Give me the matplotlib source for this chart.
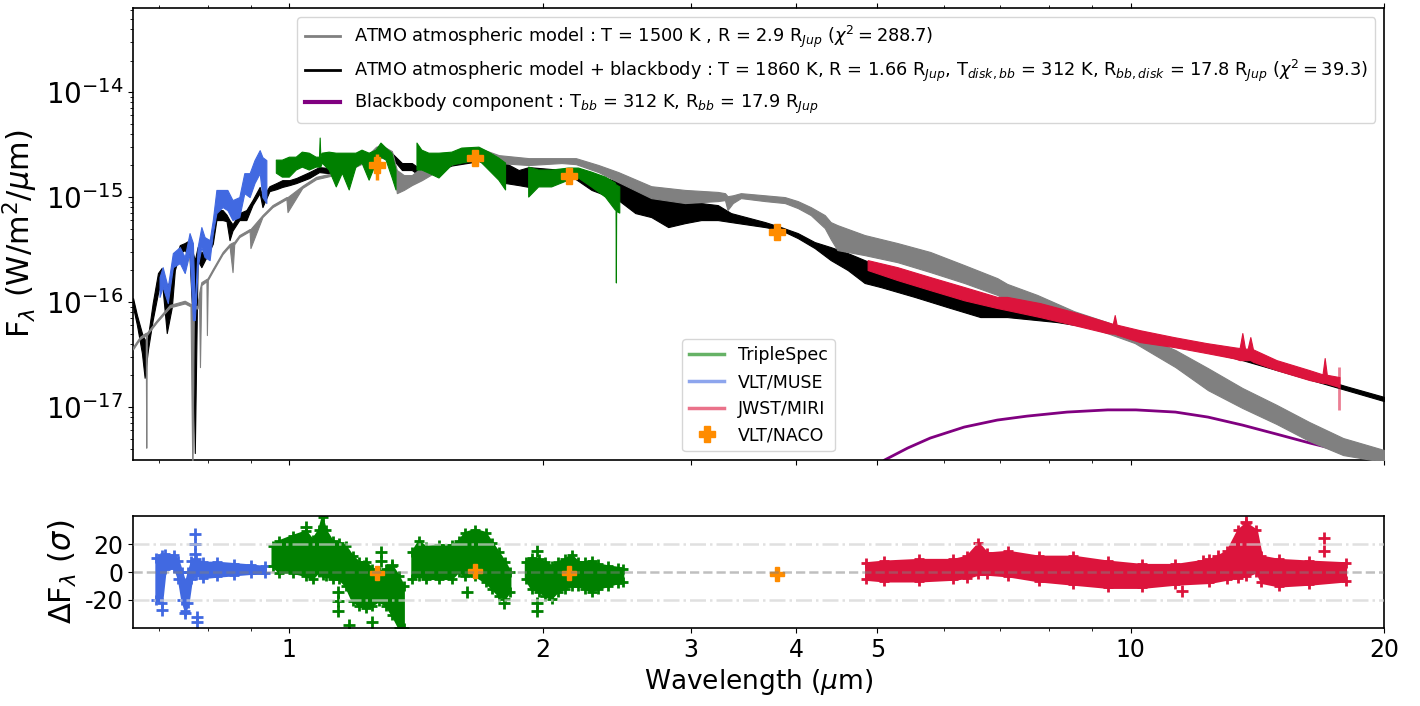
import numpy as np
import matplotlib.pyplot as plt
from matplotlib.lines import Line2D
from matplotlib.ticker import FixedLocator, FuncFormatter, NullFormatter

plt.rcParams['axes.unicode_minus'] = False
plt.rcParams['axes.linewidth'] = 1.2

nan = np.nan
# all fluxes below are in units of 1e-16 W/m2/um
UNIT = 1e-16

# ATMO model, T = 1500 K (grey): wavelength, upper and lower edge of the trace
atmo_wl = [0.652, 0.664, 0.675, 0.676, 0.677, 0.696, 0.721, 0.751, 0.763, 0.767,
           0.770, 0.778, 0.781, 0.783, 0.786, 0.797, 0.798, 0.800, 0.811, 0.833,
           0.849, 0.856, 0.860, 0.872, 0.897, 0.899, 0.929, 0.955, 0.992, 0.995,
           1.036, 1.076, 1.115, 1.168, 1.22, 1.268, 1.288, 1.324, 1.342, 1.368,
           1.398, 1.437, 1.506, 1.603, 1.68, 1.774, 1.925, 2.106, 2.19, 2.33,
           2.46, 2.692, 2.953, 3.23, 3.294, 3.317, 3.366, 3.44, 3.675, 3.88,
           4.02, 4.165, 4.328, 4.399, 4.48, 4.827, 5.28, 5.777, 6.34, 6.94,
           7.13, 7.74, 8.56, 9.37, 10.11, 11.3, 12.35, 13.57, 14.9, 16.3, 17.88, 20.0]
atmo_hi = [0.375, 0.465, 0.51, 0.51, 0.51, 0.675, 0.94, 1.03, 0.96, 0.95,
           0.92, 0.92, 1.2, 1.35, 1.55, 1.66, 1.66, 1.7, 2.07, 3.0,
           3.57, 3.7, 3.75, 4.35, 4.96, 4.96, 6.74, 8.4, 10.0, 10.0,
           12.8, 15.6, 16.6, 18.6, 22.2, 30.2, 31.0, 27.4, 18.1, 16.2,
           16.2, 19.3, 22.5, 26.8, 29.3, 25.1, 23.5, 23.5, 23.5, 20.2,
           17.3, 12.7, 11.7, 11.2, 10.9, 10.2, 10.4, 10.9, 10.4, 10.0,
           9.16, 8.03, 6.74, 5.78, 5.41, 4.35, 3.65, 3.0, 2.25, 1.69,
           1.49, 1.17, 0.82, 0.645, 0.518, 0.349, 0.235, 0.152, 0.105, 0.072, 0.0507, 0.039]
atmo_lo = [0.355, 0.443, 0.485, 0.041, 0.485, 0.645, 0.89, 0.97, 0.91, 0.02,
           0.87, 0.87, 1.1, 0.24, 1.45, 1.58, 0.485, 1.62, 1.97, 2.86,
           3.41, 1.93, 3.55, 4.16, 4.74, 3.27, 6.45, 8.03, 9.57, 7.2,
           12.2, 14.8, 15.8, 17.6, 20.8, 28.2, 28.8, 25.0, 10.9, 11.7,
           13.0, 14.5, 18.1, 22.5, 25.1, 21.1, 20.2, 21.1, 20.6, 17.3,
           13.9, 9.78, 8.77, 9.16, 9.36, 7.52, 8.77, 9.78, 9.16, 8.77,
           7.86, 6.74, 5.07, 3.98, 3.13, 2.80, 2.40, 1.93, 1.52, 1.17,
           1.04, 0.86, 0.645, 0.507, 0.407, 0.24, 0.145, 0.098, 0.069, 0.0475, 0.0349, 0.030]

# ATMO + blackbody model (black)
fit_wl = [0.652, 0.659, 0.668, 0.673, 0.679, 0.688, 0.698, 0.705, 0.715, 0.725,
          0.731, 0.741, 0.751, 0.761, 0.768, 0.772, 0.778, 0.786, 0.797, 0.811,
          0.819, 0.833, 0.842, 0.849, 0.856, 0.872, 0.889, 0.904, 0.922, 0.929,
          0.947, 0.965, 0.981, 1.0, 1.019, 1.056, 1.085, 1.115, 1.168, 1.22,
          1.288, 1.324, 1.361, 1.398, 1.437, 1.465, 1.56, 1.68, 1.774, 1.807,
          1.873, 1.925, 2.05, 2.147, 2.286, 2.46, 2.577, 2.692, 2.82, 2.953,
          3.086, 3.23, 3.349, 3.675, 3.838, 4.02, 4.21, 4.399, 4.608, 4.827,
          5.043, 5.534, 6.053, 6.625, 7.13, 8.17, 10.25, 13.57, 18.03, 20.0]
fit_hi = [1.09, 0.752, 0.507, 0.435, 0.464, 0.978, 1.89, 2.11, 1.39, 1.73,
          2.51, 3.49, 3.65, 3.89, 2.93, 2.5, 3.34, 2.93, 3.34, 4.5,
          7.52, 7.52, 6.8, 6.04, 5.5, 7.04, 7.52, 9.36, 12.5, 10.0,
          12.7, 13.6, 14.5, 14.5, 15.2, 17.3, 19.3, 18.9, 21.1, 24.0,
          26.8, 26.2, 21.1, 21.1, 18.1, 19.3, 24.0, 26.0, 22.0, 21.1,
          18.1, 19.3, 18.5, 18.5, 16.9, 13.9, 11.7, 10.9, 9.78, 8.77,
          8.77, 8.39, 7.04, 5.78, 5.18, 4.54, 3.73, 3.34, 2.93, 2.51,
          2.15, 1.62, 1.30, 1.04, 0.877, 0.72, 0.53, 0.31, 0.158, 0.125]
fit_lo = [0.896, 0.604, 0.327, 0.19, 0.349, 0.674, 1.22, 1.69, 0.507, 0.896,
          2.02, 2.93, 3.13, 2.68, 0.578, 0.0365, 2.51, 2.15, 2.68, 3.6,
          6.04, 6.04, 5.9, 3.89, 4.8, 6.04, 6.04, 8.4, 10.9, 8.03,
          11.4, 11.9, 12.5, 13.0, 13.6, 15.2, 17.3, 16.9, 18.9, 21.5,
          24.0, 23.5, 18.1, 18.1, 15.5, 16.9, 20.0, 22.0, 18.5, 13.6,
          13.0, 12.5, 16.0, 16.5, 11.7, 9.36, 7.04, 6.45, 5.18, 5.65,
          6.04, 6.04, 5.78, 5.18, 4.85, 4.07, 3.27, 2.51, 2.02, 1.52,
          1.39, 1.12, 0.896, 0.72, 0.72, 0.645, 0.485, 0.28, 0.145, 0.114]

# blackbody component (purple)
bbody_wl = [5.0, 5.098, 5.43, 5.777, 6.34, 6.94, 7.53, 8.4, 9.39, 10.14,
            11.3, 12.35, 13.57, 14.9, 16.33, 18.03, 20.0]
bbody_f = [0.027, 0.0313, 0.0407, 0.0507, 0.0645, 0.0752, 0.082, 0.0896, 0.094, 0.094,
           0.0896, 0.0803, 0.0674, 0.0553, 0.0454, 0.0373, 0.0313]

# VLT/MUSE (blue)
muse_wl = [0.701, 0.707, 0.717, 0.727, 0.741, 0.751, 0.761, 0.768, 0.772, 0.778,
           0.786, 0.793, 0.804, 0.811, 0.819, 0.833, 0.844, 0.856, 0.872, 0.884,
           0.897, 0.909, 0.922, 0.929, 0.939]
muse_hi = [1.73, 2.15, 1.39, 2.93, 3.34, 2.68, 4.54, 3.65, 0.85, 3.34,
           5.18, 4.16, 3.89, 6.04, 11.7, 11.7, 11.7, 9.36, 10.0, 16.9,
           16.9, 22.5, 28.0, 24.0, 22.5]
muse_lo = [1.12, 1.39, 0.978, 2.15, 2.35, 1.89, 2.93, 0.674, 0.674, 2.15,
           3.34, 2.68, 2.51, 4.54, 7.04, 8.03, 7.52, 6.04, 6.45, 10.9,
           10.0, 13.6, 16.9, 10.0, 8.77]

# TripleSpec (green), three bands separated by nan
ts_wl = [0.965, 0.981, 1.0, 1.019, 1.036, 1.056, 1.076, 1.086, 1.088, 1.090,
         1.094, 1.115, 1.137, 1.156, 1.178, 1.2, 1.22, 1.244, 1.268, 1.285,
         1.303, 1.324, 1.339, nan,
         1.418, 1.437, 1.465, 1.506, 1.56, 1.603, 1.68, 1.726, 1.774, 1.807, nan,
         1.925, 1.978, 2.05, 2.147, 2.206, 2.286, 2.375, 2.44, 2.445, 2.447, 2.449, 2.47]
ts_hi = [22.5, 22.5, 24.0, 24.0, 26.8, 26.2, 24.0, 24.0, 36.5, 24.0,
         26.2, 26.8, 26.2, 26.2, 26.2, 26.2, 28.0, 26.2, 28.0, 32.7,
         29.3, 26.2, 18.1, nan,
         32.7, 28.0, 26.2, 26.2, 26.8, 29.3, 29.9, 26.8, 23.5, 21.1, nan,
         19.3, 18.1, 18.1, 18.9, 18.9, 17.3, 15.5, 13.6, 13.0, 13.0, 13.0, 12.5]
ts_lo = [16.9, 15.5, 15.5, 18.1, 19.3, 18.1, 19.3, 19.3, 19.3, 19.3,
         21.1, 18.1, 12.5, 16.9, 11.7, 19.3, 21.1, 14.5, 21.1, 24.0,
         22.5, 15.5, 11.7, nan,
         18.1, 18.1, 16.9, 15.2, 20.2, 21.1, 22.5, 18.1, 14.5, 11.7, nan,
         10.0, 12.5, 12.5, 14.5, 15.2, 12.5, 10.0, 7.52, 7.5, 1.52, 7.3, 7.04]

# JWST/MIRI (red)
miri_wl = [4.867, 5.28, 5.777, 6.34, 6.94, 7.13, 7.8, 8.56, 9.37, 9.52,
           9.57, 9.62, 10.25, 11.25, 12.3, 13.3, 13.47, 13.57, 13.67, 13.77,
           13.87, 13.97, 14.9, 16.3, 16.9, 17.0, 17.1, 17.7]
miri_hi = [2.51, 2.15, 1.73, 1.39, 1.12, 1.12, 0.978, 0.803, 0.645, 0.62,
           0.752, 0.61, 0.54, 0.464, 0.407, 0.37, 0.365, 0.507, 0.36, 0.36,
           0.464, 0.355, 0.28, 0.225, 0.205, 0.293, 0.203, 0.193]
miri_lo = [2.02, 1.62, 1.30, 1.04, 0.877, 0.839, 0.72, 0.604, 0.507, 0.50,
           0.50, 0.49, 0.416, 0.373, 0.327, 0.29, 0.28, 0.28, 0.28, 0.28,
           0.28, 0.27, 0.225, 0.181, 0.17, 0.17, 0.168, 0.155]
miri_last_wl = [17.7]
miri_last_lo = [0.094]
miri_last_hi = [0.24]

# VLT/NACO photometry
naco_wl = [1.27, 1.66, 2.15, 3.80]
naco_f = [20.2, 23.5, 15.8, 4.64]
naco_err = [5.5, 2.0, 1.5, 0.4]

# residuals (sigma): upper / lower edge of each cloud, plus isolated points
muse_res_wl = [0.694, 0.705, 0.712, 0.73, 0.738, 0.745, 0.752, 0.758, 0.765, 0.775,
               0.79, 0.82, 0.86, 0.90, 0.935]
muse_res_hi = [10, 12, 13, 12, 8, 0, -8, 0, 8, 9, 7, 7, 6, 5, 4]
muse_res_lo = [-20, -22, 2, 3, -5, -20, -28, -22, -5, -2, -4, -3, -2, -1, -1]
muse_out_wl = [0.705, 0.752, 0.773, 0.773, 0.773, 0.776, 0.776]
muse_out_r = [-27, -29, 27, 20, 13, -32, -36]

ts_res_wl = [0.955, 0.973, 1.009, 1.047, 1.066, 1.085, 1.095, 1.105, 1.126, 1.146,
             1.167, 1.189, 1.21, 1.233, 1.255, 1.278, 1.302, 1.326, 1.35, 1.368, nan,
             1.4, 1.426, 1.452, 1.506, 1.561, 1.59, 1.619, 1.664, 1.711, 1.742,
             1.774, 1.806, 1.831, nan,
             1.91, 1.94, 1.978, 2.015, 2.05, 2.088, 2.127, 2.165, 2.206, 2.247,
             2.288, 2.33, 2.394, 2.46, 2.494]
ts_res_hi = [18.6, 22, 25.7, 29, 23, 30, 39, 30, 22, 21,
             18.6, 11.5, 7, 7, 2.4, 0, 2, 4.3, -3, -10, nan,
             14, 22, 18, 19, 19, 22, 28, 30, 28, 21,
             14, 7, 0, nan,
             7, 10, 9, 7, 4.3, 7, 9, 12, 7, 7,
             8, 5.5, 4, 3, 2]
ts_res_lo = [4.3, -0.5, -0.5, -3, -5, 0, -2, -3, -5, -5,
             -10, -21, -24, -26, -24, -21, -24, -31, -40, -40, nan,
             -5, -3, -5, -5, -5, 0, -3, -3, -7.5, -12,
             -17, -19, -14, nan,
             -5, -12, -14, -17, -19, -14, -12, -10, -10, -12,
             -14, -12, -10, -8, -7]
ts_out_wl = [1.143, 1.143, 1.143, 1.178, 1.255, 1.284, 1.284, 1.326, 1.227, 1.626,
             1.798, 1.968, 1.968, 1.968, 1.047]
ts_out_r = [-14, -21, -28, -38, -36, 14, 8, 5, 4, -14, -22, 15, -22, -28, 32]

miri_res_wl = [4.84, 5.09, 5.60, 6.15, 6.38, 6.59, 6.75, 7.15, 7.78, 8.54,
               9.39, 10.31, 11.3, 12.4, 13.0, 13.4, 13.7, 14.1, 14.3, 15.0, 16.3, 18.0]
miri_res_hi = [6.6, 7.8, 9, 9, 11.3, 20.7, 13.6, 14.8, 11.3, 11.3,
               7.8, 5.4, 5.4, 9, 14.8, 30, 35, 30, 11.3, 9, 7.8, 6.6]
miri_res_lo = [-5.2, -6.4, -6.4, -5.2, -4, -1.6, -1.6, -2.8, -6.4, -8.7,
               -11, -11, -8.7, -7.5, -5.2, -4, -2.8, 0, -7.5, -10, -8.7, -6.4]
miri_out_wl = [11.5, 12.2, 12.7, 13.7, 16.97, 16.97]
miri_out_r = [-13.4, 7.8, 11.3, 36, 24, 15]

naco_res = [-1, 0.5, -0.5, -1.5]

C_TS, C_MUSE, C_MIRI, C_NACO = 'green', 'royalblue', 'crimson', 'darkorange'


def band(axis, wl, hi, lo, color, z, scale=1.0, lw=0.8):
    wl = np.asarray(wl, float)
    axis.fill_between(wl, np.asarray(lo, float) * scale, np.asarray(hi, float) * scale,
                      color=color, lw=lw, zorder=z)


fig = plt.figure(figsize=(14.2, 7.06), dpi=100)
ax = fig.add_axes([0.0937, 0.3484, 0.881, 0.640])
axr = fig.add_axes([0.0937, 0.1105, 0.881, 0.1586], sharex=ax)

# spectrum panel
ax.plot(bbody_wl, np.array(bbody_f) * UNIT, color='purple', lw=2, zorder=1)
band(ax, fit_wl, fit_hi, fit_lo, 'black', 2, UNIT)
band(ax, atmo_wl, atmo_hi, atmo_lo, 'gray', 3, UNIT)
band(ax, muse_wl, muse_hi, muse_lo, C_MUSE, 4, UNIT)
band(ax, ts_wl, ts_hi, ts_lo, C_TS, 4, UNIT)
band(ax, miri_wl, miri_hi, miri_lo, C_MIRI, 4, UNIT)
ax.vlines(miri_last_wl, np.array(miri_last_lo) * UNIT, np.array(miri_last_hi) * UNIT,
          color=C_MIRI, alpha=0.55, lw=2, zorder=4)
ax.errorbar(naco_wl, np.array(naco_f) * UNIT, yerr=np.array(naco_err) * UNIT, fmt='P',
            color=C_NACO, ms=11, elinewidth=2.5, capsize=0, zorder=6)

ax.set_xscale('log')
ax.set_yscale('log')
ax.set_xlim(0.652, 20)
ax.set_ylim(3.13e-18, 6.3e-14)
ax.yaxis.set_major_locator(FixedLocator([1e-17, 1e-16, 1e-15, 1e-14]))
ax.set_ylabel(r'F$_\lambda$ (W/m$^2$/$\mu$m)', fontsize=22)

lab1 = r'ATMO atmospheric model : T = 1500 K , R = 2.9 R$_{Jup}$ ($\chi^2 = 288.7$)'
lab2 = (r'ATMO atmospheric model + blackbody : T = 1860 K, R = 1.66 R$_{Jup}$, '
        r'T$_{disk, bb}$ = 312 K, R$_{bb, disk}$ = 17.8 R$_{Jup}$ ($\chi^2 = 39.3$)')
lab3 = r'Blackbody component : T$_{bb}$ = 312 K, R$_{bb}$ = 17.9 R$_{Jup}$'
model_handles = [Line2D([], [], color='gray', lw=2, label=lab1),
                 Line2D([], [], color='black', lw=2, label=lab2),
                 Line2D([], [], color='purple', lw=3, label=lab3)]
leg1 = ax.legend(handles=model_handles, loc='upper right', fontsize=12.8, labelspacing=0.42)
ax.add_artist(leg1)

data_handles = [Line2D([], [], color=C_TS, alpha=0.6, lw=2.5, label='TripleSpec'),
                Line2D([], [], color=C_MUSE, alpha=0.6, lw=2.5, label='VLT/MUSE'),
                Line2D([], [], color=C_MIRI, alpha=0.6, lw=2.5, label='JWST/MIRI'),
                Line2D([], [], color=C_NACO, marker='P', ls='none', ms=11, label='VLT/NACO')]
ax.legend(handles=data_handles, loc='lower center', fontsize=12.5)

# residual panel
for wl, hi, lo, c in [(muse_res_wl, muse_res_hi, muse_res_lo, C_MUSE),
                      (ts_res_wl, ts_res_hi, ts_res_lo, C_TS),
                      (miri_res_wl, miri_res_hi, miri_res_lo, C_MIRI)]:
    band(axr, wl, hi, lo, c, 2, lw=1.5)
    axr.plot(wl, hi, '+', color=c, ms=7, mew=2, zorder=2)
    axr.plot(wl, lo, '+', color=c, ms=7, mew=2, zorder=2)
axr.plot(muse_out_wl, muse_out_r, '+', color=C_MUSE, ms=8, mew=2, zorder=2)
axr.plot(ts_out_wl, ts_out_r, '+', color=C_TS, ms=8, mew=2, zorder=2)
axr.plot(miri_out_wl, miri_out_r, '+', color=C_MIRI, ms=8, mew=2, zorder=2)
axr.plot(naco_wl, naco_res, 'P', color=C_NACO, ms=10, ls='none', zorder=4)

axr.axhline(0, ls='--', color='gray', alpha=0.5, lw=1.8, zorder=5)
for lvl in (20, -20):
    axr.axhline(lvl, ls='-.', color='lightgray', alpha=0.7, lw=1.8, zorder=5)
axr.set_ylim(-40, 40)
axr.set_yticks([-20, 0, 20])
axr.set_ylabel(r'$\Delta$F$_\lambda$ ($\sigma$)', fontsize=22, labelpad=4)
axr.set_xlabel(r'Wavelength ($\mu$m)', fontsize=19)

axr.xaxis.set_major_locator(FixedLocator([1, 2, 3, 4, 5, 10, 20]))
axr.xaxis.set_minor_locator(FixedLocator([0.7, 0.8, 0.9, 6, 7, 8, 9]))
axr.xaxis.set_major_formatter(FuncFormatter(lambda v, p: f'{v:g}'))
axr.xaxis.set_minor_formatter(NullFormatter())

ax.tick_params(axis='x', which='both', top=True, labelbottom=False)
ax.tick_params(axis='y', which='major', labelsize=20)
axr.tick_params(axis='both', which='major', labelsize=17)

fig.savefig('out.png', dpi=100)
